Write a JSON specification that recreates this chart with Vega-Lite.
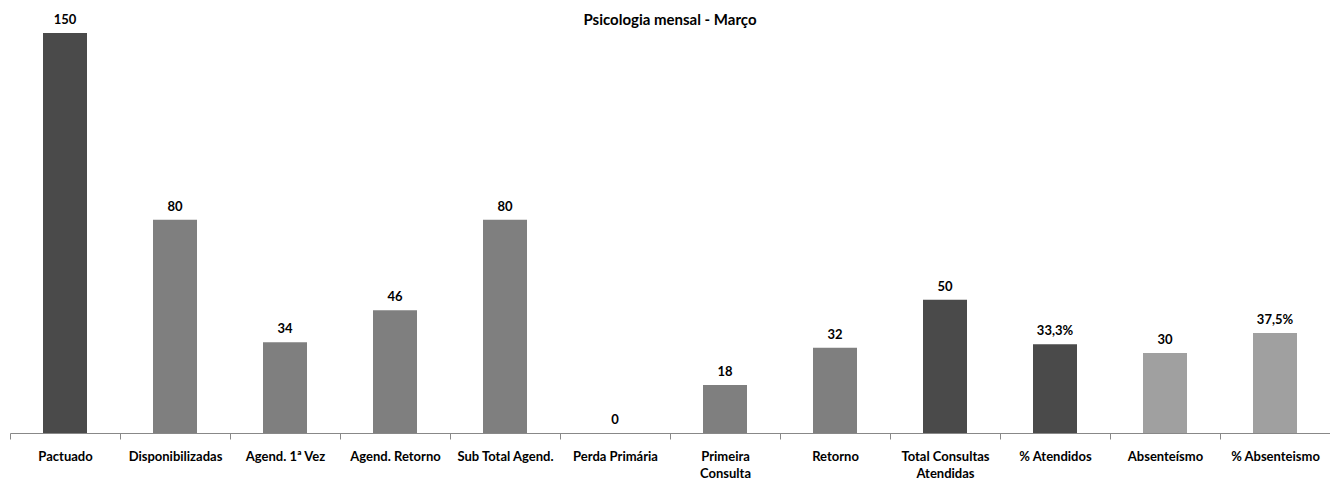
{
  "$schema": "https://vega.github.io/schema/vega-lite/v6.json",
  "width": 1320,
  "height": 400,
  "autosize": {"type": "none"},
  "padding": {"left": 10, "top": 33, "right": 0, "bottom": 48},
  "background": "white",
  "title": {
    "text": "Psicologia mensal  - Março",
    "anchor": "middle",
    "baseline": "alphabetic",
    "offset": 0,
    "dy": 26
  },
  "data": {
    "values": [
      {"categoria": "Pactuado", "valor": 150, "rotulo": "150", "grupo": "A"},
      {"categoria": "Disponibilizadas", "valor": 80, "rotulo": "80", "grupo": "B"},
      {"categoria": "Agend. 1ª Vez", "valor": 34, "rotulo": "34", "grupo": "B"},
      {"categoria": "Agend. Retorno", "valor": 46, "rotulo": "46", "grupo": "B"},
      {"categoria": "Sub Total Agend.", "valor": 80, "rotulo": "80", "grupo": "B"},
      {"categoria": "Perda Primária", "valor": 0, "rotulo": "0", "grupo": "B"},
      {"categoria": "Primeira Consulta", "valor": 18, "rotulo": "18", "grupo": "B"},
      {"categoria": "Retorno", "valor": 32, "rotulo": "32", "grupo": "B"},
      {"categoria": "Total Consultas Atendidas", "valor": 50, "rotulo": "50", "grupo": "A"},
      {"categoria": "% Atendidos", "valor": 33.3, "rotulo": "33,3%", "grupo": "A"},
      {"categoria": "Absenteísmo", "valor": 30, "rotulo": "30", "grupo": "C"},
      {"categoria": "% Absenteismo", "valor": 37.5, "rotulo": "37,5%", "grupo": "C"}
    ]
  },
  "encoding": {
    "x": {
      "field": "categoria",
      "type": "nominal",
      "sort": null,
      "scale": {"paddingInner": 0, "paddingOuter": 0},
      "axis": {
        "title": null,
        "labelAngle": 0,
        "labelFont": "Lato",
        "labelFontSize": 13,
        "labelFontWeight": "bold",
        "labelColor": "#000000",
        "labelPadding": 11,
        "labelBaseline": "top",
        "labelLineHeight": 17,
        "labelExpr": "datum.label == 'Primeira Consulta' ? ['Primeira', 'Consulta'] : datum.label == 'Total Consultas Atendidas' ? ['Total Consultas', 'Atendidas'] : datum.label",
        "tickBand": "extent",
        "tickSize": 6,
        "tickColor": "#888888",
        "domainColor": "#888888",
        "grid": false
      }
    },
    "y": {
      "field": "valor",
      "type": "quantitative",
      "scale": {"domain": [0, 150], "nice": false},
      "axis": null
    }
  },
  "layer": [
    {
      "mark": {"type": "bar", "width": {"band": 0.4}},
      "encoding": {
        "color": {
          "field": "grupo",
          "type": "nominal",
          "scale": {"domain": ["A", "B", "C"], "range": ["#4a4a4a", "#7f7f7f", "#a0a0a0"]},
          "legend": null
        }
      }
    },
    {
      "mark": {"type": "text", "baseline": "alphabetic", "dy": -9, "font": "Lato", "fontSize": 13, "fontWeight": "bold", "color": "#000000"},
      "encoding": {"text": {"field": "rotulo"}}
    }
  ],
  "config": {
    "view": {"stroke": null},
    "title": {"font": "Lato", "fontSize": 15, "fontWeight": "bold", "color": "#000000"}
  }
}
